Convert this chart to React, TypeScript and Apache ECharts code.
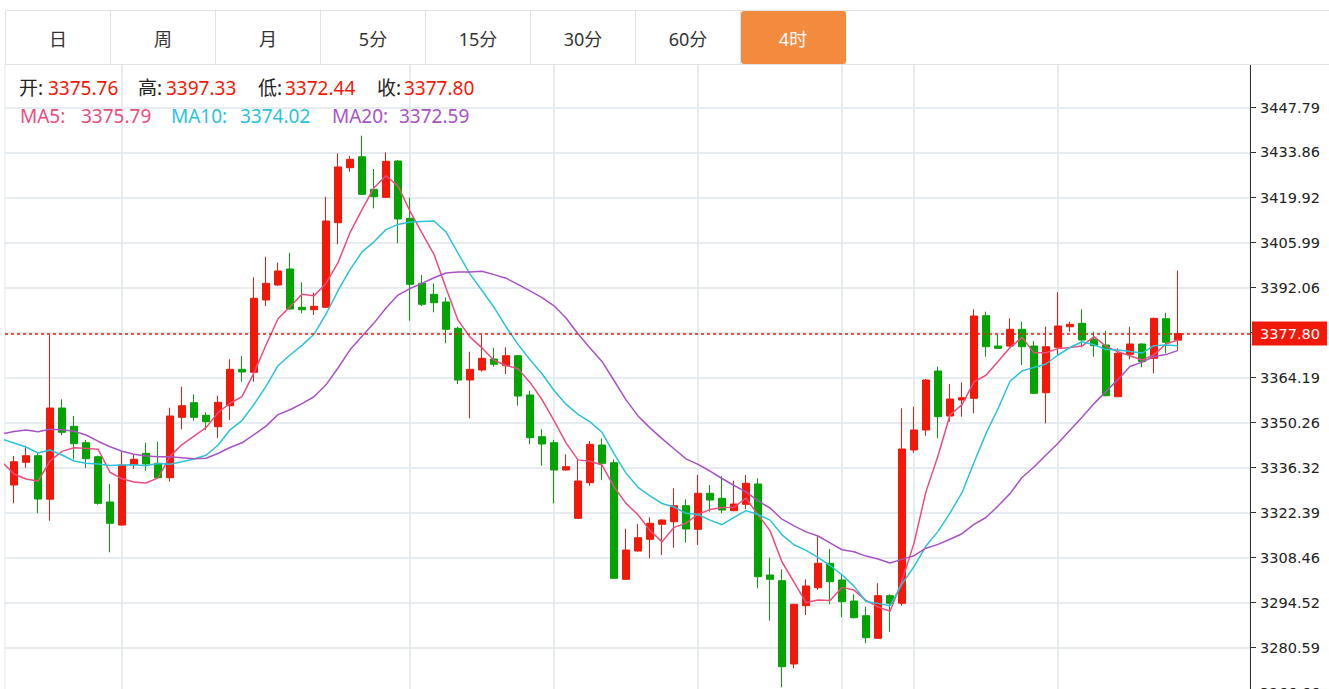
import React, { useEffect, useRef } from "react";
import * as echarts from "echarts";

// ---------- data ----------
const tabs = ["日", "周", "月", "5分", "15分", "30分", "60分", "4时"];
const activeTab = "4时";

// [open, close, low, high] per 4-hour bar, index 0..97
const candles: number[][] = [
  [3330.91, 3338.12, 3325.24, 3339.89],
  [3337.94, 3339.98, 3336.27, 3343.08],
  [3339.98, 3326.57, 3322.15, 3340.72],
  [3326.51, 3354.75, 3319.86, 3377.35],
  [3354.75, 3347.23, 3346.3, 3357.44],
  [3349.08, 3343.7, 3338.87, 3352.27],
  [3344.01, 3339.05, 3336.17, 3344.84],
  [3339.67, 3325.24, 3324.81, 3340.0],
  [3325.65, 3319.05, 3310.07, 3331.22],
  [3318.52, 3337.1, 3318.3, 3341.22],
  [3337.19, 3338.87, 3335.86, 3340.2],
  [3340.72, 3337.41, 3335.34, 3344.01],
  [3337.63, 3333.17, 3333.0, 3344.32],
  [3333.17, 3352.27, 3331.93, 3354.84],
  [3351.87, 3355.46, 3348.15, 3361.34],
  [3356.39, 3351.87, 3350.82, 3358.99],
  [3352.49, 3350.51, 3347.94, 3353.42],
  [3348.96, 3356.51, 3345.37, 3358.56],
  [3355.46, 3366.73, 3351.03, 3369.83],
  [3366.73, 3365.9, 3362.89, 3370.85],
  [3365.8, 3388.71, 3362.89, 3395.21],
  [3388.19, 3393.36, 3386.33, 3401.59],
  [3392.83, 3397.17, 3392.6, 3399.74],
  [3397.78, 3385.4, 3385.2, 3402.83],
  [3385.93, 3385.18, 3384.07, 3393.67],
  [3385.18, 3386.24, 3383.54, 3390.45],
  [3385.93, 3412.65, 3385.7, 3420.17],
  [3412.12, 3429.37, 3405.43, 3433.61],
  [3429.15, 3431.75, 3427.91, 3432.77],
  [3432.55, 3420.91, 3420.7, 3439.06],
  [3422.46, 3420.17, 3416.58, 3428.75],
  [3419.98, 3431.13, 3419.8, 3433.92],
  [3431.22, 3413.27, 3405.74, 3431.53],
  [3413.48, 3393.05, 3381.78, 3419.86],
  [3393.36, 3386.86, 3386.33, 3395.93],
  [3389.95, 3387.35, 3384.38, 3393.36],
  [3387.57, 3379.12, 3374.78, 3388.96],
  [3379.42, 3363.42, 3362.18, 3379.92],
  [3363.42, 3366.73, 3351.56, 3372.18],
  [3366.51, 3370.14, 3365.99, 3377.35],
  [3369.92, 3368.28, 3367.54, 3373.42],
  [3367.85, 3370.94, 3365.28, 3373.54],
  [3370.94, 3358.46, 3355.46, 3371.1],
  [3358.77, 3345.55, 3343.51, 3360.11],
  [3345.86, 3343.6, 3336.88, 3348.15],
  [3344.01, 3335.55, 3325.24, 3344.84],
  [3335.55, 3336.58, 3335.4, 3340.41],
  [3320.6, 3332.15, 3320.4, 3338.96],
  [3331.62, 3343.51, 3330.69, 3344.53],
  [3343.29, 3337.63, 3332.46, 3345.37],
  [3337.81, 3302.02, 3301.8, 3338.87],
  [3301.71, 3310.78, 3301.5, 3317.38],
  [3310.47, 3314.59, 3310.3, 3318.83],
  [3314.1, 3319.05, 3308.21, 3320.91],
  [3318.74, 3320.07, 3309.24, 3320.29],
  [3319.55, 3324.5, 3311.5, 3329.89],
  [3324.5, 3317.29, 3313.04, 3326.48],
  [3317.19, 3328.34, 3312.33, 3334.01],
  [3328.34, 3326.26, 3322.64, 3330.91],
  [3326.79, 3323.17, 3322.15, 3333.7],
  [3322.95, 3325.03, 3322.8, 3332.24],
  [3324.93, 3331.44, 3323.39, 3334.01],
  [3331.22, 3302.52, 3298.93, 3332.98],
  [3303.04, 3301.71, 3288.9, 3308.4],
  [3301.28, 3274.65, 3268.27, 3304.81],
  [3275.49, 3293.97, 3274.16, 3294.1],
  [3293.54, 3299.64, 3290.66, 3301.71],
  [3299.11, 3306.67, 3298.4, 3315.12],
  [3306.67, 3300.97, 3293.97, 3311.09],
  [3301.5, 3294.78, 3289.95, 3303.04],
  [3294.99, 3289.82, 3289.6, 3297.07],
  [3290.44, 3283.63, 3281.9, 3293.23],
  [3283.45, 3296.64, 3283.3, 3300.48],
  [3296.64, 3294.28, 3285.49, 3297.07],
  [3294.28, 3342.06, 3293.54, 3354.66],
  [3341.75, 3347.94, 3340.91, 3355.15],
  [3347.94, 3363.42, 3346.17, 3363.73],
  [3366.2, 3352.06, 3345.37, 3367.54],
  [3352.27, 3357.54, 3350.51, 3362.18],
  [3357.23, 3357.94, 3352.06, 3362.7],
  [3357.75, 3383.23, 3353.11, 3385.31],
  [3383.33, 3373.73, 3370.63, 3384.57],
  [3373.94, 3373.23, 3373.1, 3377.35],
  [3373.94, 3379.12, 3373.8, 3382.52],
  [3379.12, 3373.73, 3368.06, 3381.47],
  [3373.94, 3359.3, 3359.1, 3375.49],
  [3359.49, 3373.73, 3350.01, 3379.92],
  [3373.54, 3380.14, 3370.85, 3390.57],
  [3379.92, 3380.66, 3378.37, 3381.47],
  [3380.97, 3375.8, 3373.54, 3385.31],
  [3376.11, 3374.04, 3370.63, 3378.37],
  [3374.25, 3358.56, 3358.4, 3378.68],
  [3358.25, 3371.68, 3358.1, 3373.23],
  [3371.38, 3374.56, 3369.83, 3379.92],
  [3374.56, 3369.08, 3367.35, 3374.78],
  [3370.14, 3382.52, 3365.49, 3382.7],
  [3382.4, 3375.09, 3371.68, 3384.26],
  [3375.76, 3377.8, 3372.44, 3397.33],
];

// moving averages, index -1..97 (first point lies just left of the plot)
const ma5 = [
  3338.03, 3334.31, 3332.77, 3332.15, 3338.34, 3341.33, 3342.44, 3342.25, 3342.0, 3334.85,
  3332.83, 3331.86, 3331.54, 3333.12, 3339.77, 3343.43, 3346.04, 3348.66, 3353.32, 3356.22, 3358.3,
  3365.68, 3374.24, 3382.37, 3386.11, 3389.96, 3389.47, 3393.33, 3399.76, 3409.04, 3416.18,
  3422.97, 3426.67, 3423.44, 3415.7, 3408.89, 3402.33, 3391.92, 3381.95, 3376.69, 3373.35,
  3369.54, 3367.9, 3366.91, 3362.68, 3357.37, 3350.82, 3343.95, 3338.69, 3338.28, 3337.08,
  3330.38, 3325.22, 3321.71, 3316.82, 3313.3, 3317.8, 3319.1, 3321.85, 3323.29, 3323.91,
  3324.02, 3326.84, 3321.68, 3316.78, 3307.07, 3300.86, 3294.5, 3295.32, 3295.18, 3299.21,
  3298.38, 3295.17, 3293.17, 3291.83, 3301.29, 3312.91, 3328.86, 3339.95, 3352.6, 3355.78,
  3362.84, 3364.9, 3369.13, 3373.45, 3376.61, 3371.82, 3371.82, 3373.21, 3373.52, 3373.92,
  3376.87, 3373.84, 3372.15, 3370.93, 3369.59, 3371.28, 3374.58, 3375.79,
];
const ma10 = [
  3345.15, 3343.91, 3342.67, 3340.82, 3341.75, 3340.2, 3338.34, 3337.63, 3337.41, 3336.94,
  3337.07, 3337.16, 3336.88, 3337.56, 3337.32, 3338.12, 3338.96, 3340.11, 3343.23, 3348.0, 3350.87,
  3355.87, 3361.44, 3367.84, 3371.16, 3374.13, 3377.57, 3383.79, 3391.06, 3397.57, 3403.08,
  3406.2, 3409.98, 3411.6, 3412.37, 3412.53, 3412.65, 3409.3, 3402.71, 3396.21, 3391.12,
  3385.93, 3379.92, 3374.44, 3369.67, 3365.37, 3360.16, 3355.93, 3352.8, 3350.47, 3347.23,
  3340.6, 3334.59, 3330.2, 3327.53, 3325.18, 3324.1, 3322.15, 3321.77, 3320.04, 3318.61,
  3320.91, 3322.98, 3321.77, 3320.04, 3315.49, 3312.42, 3310.66, 3308.5, 3305.98, 3303.13,
  3299.61, 3294.83, 3294.26, 3293.51, 3300.26, 3305.64, 3312.02, 3316.55, 3322.21, 3328.52,
  3337.87, 3346.89, 3354.53, 3363.02, 3366.2, 3367.32, 3368.37, 3371.16, 3373.48, 3375.27,
  3374.34, 3372.83, 3372.68, 3372.21, 3371.75, 3374.06, 3374.22, 3374.02,
];
const ma20 = [
  3346.7, 3347.47, 3347.94, 3347.41, 3348.19, 3348.03, 3347.57, 3346.39, 3344.47, 3342.76,
  3341.38, 3340.45, 3339.89, 3339.64, 3339.64, 3339.36, 3339.02, 3339.18, 3340.66, 3342.51, 3343.97,
  3346.51, 3349.15, 3352.7, 3354.22, 3356.11, 3358.24, 3361.93, 3367.13, 3372.77, 3376.98,
  3381.04, 3385.71, 3389.71, 3391.74, 3393.33, 3395.09, 3396.55, 3396.89, 3396.89, 3397.11,
  3396.05, 3394.94, 3393.02, 3391.0, 3388.93, 3386.39, 3382.61, 3377.75, 3373.33, 3369.18,
  3363.26, 3357.26, 3352.3, 3348.59, 3345.27, 3342.12, 3339.02, 3337.29, 3335.24, 3332.92,
  3330.75, 3328.77, 3325.99, 3323.79, 3320.32, 3318.25, 3316.39, 3315.12, 3313.01, 3310.87,
  3310.26, 3308.9, 3308.0, 3306.76, 3307.88, 3309.02, 3311.34, 3312.52, 3314.1, 3315.83,
  3318.74, 3320.84, 3324.38, 3328.24, 3333.23, 3336.48, 3340.2, 3343.85, 3347.85, 3351.9,
  3356.11, 3359.85, 3363.61, 3367.59, 3368.96, 3370.69, 3371.28, 3372.59,
];

const yTicks = [
  3447.79, 3433.86, 3419.92, 3405.99, 3392.06, 3378.12, 3364.19, 3350.26, 3336.32,
  3322.39, 3308.46, 3294.52, 3280.59, 3266.66,
];
const yLabelValues = yTicks.filter((v) => v !== 3378.12);
const yMin = 3258.15;
const yMax = 3461.26;
const xSplitIndices = [9, 33, 45, 57, 69, 75, 87];
const xMin = -0.75;
const xMax = 103;

const lastPrice = 3377.8;
const ohlcLegend = [
  ["开:", 3375.76],
  ["高:", 3397.33],
  ["低:", 3372.44],
  ["收:", 3377.8],
] as const;
const maLegend = [
  ["MA5:", 3375.79],
  ["MA10:", 3374.02],
  ["MA20:", 3372.59],
] as const;

// ---------- styles ----------
const RED = "#f2190a";
const GREEN = "#02a402";
const MA_COLORS = ["#ec4d80", "#2bc3d9", "#a953c4"];
const GRID_LINE = "#e7ecf1";
const UI_FONT = '"Noto Sans", "Noto Sans CJK SC", sans-serif';
const AXIS_FONT = '"DejaVu Sans", Verdana, sans-serif';

function buildOption() {
  const ohlcX = [
    [19, 48],
    [138, 166],
    [258, 285],
    [377, 404],
  ];
  const maX = [
    [20, 81],
    [171, 240],
    [332, 399],
  ];
  const graphic: any[] = [];
  const addText = (text: string, x: number, y: number, fill: string) =>
    graphic.push({
      type: "text",
      x,
      y,
      z: 100,
      silent: true,
      style: { text, fill, fontSize: 19, fontFamily: UI_FONT, verticalAlign: "middle" },
    });
  ohlcLegend.forEach(([label, value], k) => {
    addText(label, ohlcX[k][0], 88, "#222");
    addText(value.toFixed(2), ohlcX[k][1], 88, RED);
  });
  maLegend.forEach(([label, value], k) => {
    addText(label, maX[k][0], 116, MA_COLORS[k]);
    addText(value.toFixed(2), maX[k][1], 116, MA_COLORS[k]);
  });

  const maSeries = [ma5, ma10, ma20].map((arr, k) => ({
    type: "line",
    name: ["MA5", "MA10", "MA20"][k],
    data: arr.map((v, i) => [i - 1, v]),
    showSymbol: false,
    symbol: "none",
    smooth: false,
    z: 4,
    lineStyle: { color: MA_COLORS[k], width: 1.5 },
    itemStyle: { color: MA_COLORS[k] },
    silent: true,
  }));

  return {
    animation: false,
    backgroundColor: "#fff",
    graphic,
    grid: {
      left: 5,
      right: 79,
      top: 64,
      bottom: 20,
      show: true,
      borderColor: "#e2e6eb",
      borderWidth: 1,
      backgroundColor: "transparent",
    },
    xAxis: {
      type: "value",
      min: xMin,
      max: xMax,
      axisLine: { show: false, onZero: false },
      axisTick: { show: false, customValues: xSplitIndices },
      axisLabel: { show: false },
      splitLine: { show: true, lineStyle: { color: GRID_LINE, width: 2 } },
    },
    yAxis: {
      type: "value",
      position: "right",
      min: yMin,
      max: yMax,
      axisLine: { show: true, onZero: false, lineStyle: { color: "#333", width: 1 } },
      axisTick: { show: true, length: 6, customValues: yTicks, lineStyle: { color: "#333" } },
      axisLabel: {
        customValues: yLabelValues,
        margin: 10,
        color: "#222",
        fontFamily: AXIS_FONT,
        fontSize: 14.5,
        formatter: (v: number) => v.toFixed(2),
      },
      splitLine: { show: true, lineStyle: { color: GRID_LINE, width: 2 } },
    },
    series: [
      {
        type: "candlestick",
        name: "4时",
        data: candles.map((c, i) => [i, c[0], c[1], c[2], c[3]]),
        encode: { x: 0, y: [1, 2, 3, 4] },
        barWidth: 7,
        z: 3,
        silent: true,
        itemStyle: {
          color: RED,
          color0: GREEN,
          borderColor: RED,
          borderColor0: GREEN,
          borderWidth: 1,
        },
        markLine: {
          silent: true,
          symbol: ["none", "none"],
          data: [{ yAxis: lastPrice }],
          lineStyle: { color: RED, type: [3, 3], width: 1.5 },
          label: {
            show: true,
            position: "end",
            distance: 2,
            formatter: () => lastPrice.toFixed(2),
            color: "#fff",
            backgroundColor: RED,
            padding: [5, 7, 4, 8],
            fontFamily: AXIS_FONT,
            fontSize: 14.5,
          },
        },
      },
      ...maSeries,
    ],
  };
}

export default function App() {
  const ref = useRef<HTMLDivElement>(null);
  useEffect(() => {
    if (!ref.current) return;
    const chart = echarts.init(ref.current, null, { renderer: "svg" });
    chart.setOption(buildOption() as any);
    return () => chart.dispose();
  }, []);

  return (
    <div
      style={{
        position: "fixed",
        left: 0,
        top: 0,
        width: 1329,
        height: 689,
        overflow: "hidden",
        background: "#fff",
      }}
    >
      <div ref={ref} style={{ position: "absolute", left: 0, top: 0, width: 1329, height: 740 }} />
      <div
        style={{
          position: "absolute",
          left: 5,
          top: 10,
          width: 1324,
          height: 53,
          borderTop: "1px solid #e2e2e2",
          borderBottom: "1px solid #e2e2e2",
          display: "flex",
          fontFamily: UI_FONT,
          fontSize: 18,
          color: "#333",
          background: "#fff",
        }}
      >
        {tabs.map((t, i) => {
          const active = t === activeTab;
          return (
            <div
              key={t}
              style={{
                width: 104,
                height: 53,
                borderLeft: i === 0 ? "1px solid #e2e2e2" : undefined,
                borderRight: active ? "1px solid #f38b3e" : "1px solid #e2e2e2",
                background: active ? "#f38b3e" : "#fff",
                color: active ? "#fff" : "#333",
                borderRadius: active ? 3 : 0,
                display: "flex",
                alignItems: "center",
                justifyContent: "center",
                boxSizing: "content-box",
              }}
            >
              {t}
            </div>
          );
        })}
      </div>
    </div>
  );
}
